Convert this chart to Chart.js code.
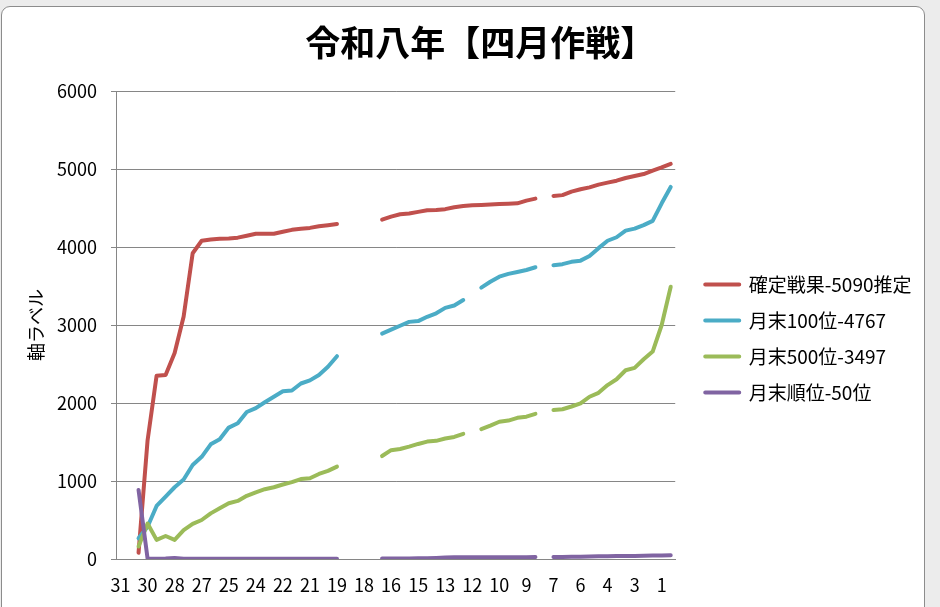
<!DOCTYPE html>
<html lang="ja">
<head>
<meta charset="utf-8">
<title>令和八年【四月作戦】</title>
<script src="https://cdn.jsdelivr.net/npm/chart.js@4.4.1/dist/chart.umd.min.js"></script>
<style>
    html, body { margin: 0; padding: 0; background: #ececec; }
    body { width: 940px; height: 607px; position: relative; overflow: hidden; }
    /* 枠（Excelのグラフエリア風） */
    .marco { position: absolute; left: 1px; top: 6px; width: 922px; height: 620px; background: #fff; border: 1px solid #8c8c8c; border-radius: 9px; }
    #grafico { position: absolute; left: 0; top: 0; }
</style>
</head>
<body>
<div class="marco"></div>
<canvas id="grafico" width="940" height="607"></canvas>
<script>
    // 日付ラベル（1日2回集計なので同じ日が2つずつ）
    var dias = ['31','31','30','30','29','29','28','28','27','27','26','26','25','25','24','24',
        '23','23','22','22','21','21','20','20','19','19','18','18','17','17','16','16',
        '15','15','14','14','13','13','12','12','11','11','10','10','9','9','8','8',
        '7','7','6','6','5','5','4','4','3','3','2','2','1','1'];

    // Y軸の目盛り
    var ticksY = [0, 1000, 2000, 3000, 4000, 5000, 6000];

    // 凡例名
    var nombres = ['確定戦果-5090推定', '月末100位-4767', '月末500位-3497', '月末順位-50位'];

    // 確定戦果
    var rojo = [null, null, 80, 1520, 2350, 2360, 2640, 3110, 3920, 4080,
        4095, 4105, 4110, 4120, 4145, 4170, 4170, 4170, 4195, 4220,
        4235, 4245, 4265, 4280, 4295, null, null, null, null, 4350,
        4390, 4420, 4430, 4450, 4470, 4475, 4485, 4510, 4525, 4535,
        4540, 4545, 4550, 4555, 4560, 4595, 4620, null, 4655, 4665,
        4710, 4740, 4765, 4800, 4825, 4850, 4885, 4910, 4935, 4980,
        5020, 5065];

    // 月末100位
    var azul = [null, null, 265, 414, 680, 800, 920, 1020, 1205, 1310,
        1470, 1535, 1685, 1740, 1885, 1935, 2010, 2080, 2150, 2160,
        2250, 2290, 2360, 2465, 2600, null, null, null, null, 2890,
        2940, 2990, 3040, 3050, 3105, 3150, 3220, 3250, 3320, null,
        3480, 3555, 3620, 3655, 3680, 3705, 3740, null, 3765, 3780,
        3810, 3825, 3885, 3985, 4080, 4125, 4210, 4235, 4280, 4335,
        4560, 4770];

    // 月末500位
    var verde = [null, null, 160, 455, 245, 295, 245, 370, 450, 500,
        585, 650, 715, 745, 810, 855, 895, 920, 955, 985,
        1025, 1035, 1090, 1130, 1185, null, null, null, null, 1320,
        1395, 1410, 1440, 1475, 1505, 1515, 1545, 1565, 1605, null,
        1665, 1710, 1760, 1775, 1810, 1825, 1860, null, 1910, 1920,
        1955, 1995, 2080, 2130, 2230, 2305, 2420, 2450, 2560, 2660,
        3000, 3490];

    // 月末順位
    var morado = [null, null, 885, 5, 3, 5, 12, 4, 2, 2,
        2, 2, 2, 2, 2, 2, 2, 2, 2, 2,
        2, 2, 2, 2, 2, null, null, null, null, 5,
        6, 7, 8, 9, 10, 14, 18, 21, 22, 23,
        23, 24, 24, 24, 24, 24, 25, null, 26, 27,
        28, 30, 32, 34, 35, 37, 38, 40, 42, 44,
        46, 48];

    var colores = ['#C0504D', '#4BACC6', '#9BBB59', '#8064A2'];
    var fuente = "'Noto Sans CJK JP', 'Noto Sans', sans-serif";

    // 系列を作る（後の系列ほど上に描く）
    function serie(i, valores) {
        return {
            label: nombres[i],
            data: valores,
            borderColor: colores[i],
            backgroundColor: colores[i],
            borderWidth: 4,
            pointRadius: 0,
            borderJoinStyle: 'round',
            borderCapStyle: 'round',
            tension: 0,
            spanGaps: false,
            order: 4 - i
        };
    }

    // 凡例とタイトルの位置を微調整
    var ajustes = {
        id: 'ajustes',
        afterLayout: function (chart) {
            var lg = chart.legend;
            if (lg) {
                lg.left += 13; lg.right += 40;
                lg.top += 35; lg.bottom += 35;
            }
            var t = chart.titleBlock;
            if (t) {
                t.left += 16; t.right += 16;
            }
        }
    };

    var ctx = document.getElementById('grafico').getContext('2d');
    var grafico = new Chart(ctx, {
        type: 'line',
        data: {
            labels: dias,
            datasets: [serie(0, rojo), serie(1, azul), serie(2, verde), serie(3, morado)]
        },
        options: {
            responsive: false,
            animation: false,
            layout: { padding: { left: 20, right: 31.5, top: 0, bottom: 0 } },
            plugins: {
                title: {
                    display: true,
                    text: '令和八年【四月作戦】',
                    color: '#000',
                    font: { family: fuente, size: 35, weight: 'bold' },
                    padding: { top: 22, bottom: 27 }
                },
                legend: {
                    position: 'right',
                    maxWidth: 320,
                    labels: {
                        boxWidth: 34,
                        boxHeight: 0,
                        padding: 17,
                        color: '#000',
                        font: { family: fuente, size: 19 },
                        sort: function (a, b) { return a.datasetIndex - b.datasetIndex; }
                    }
                },
                tooltip: { enabled: false }
            },
            scales: {
                x: {
                    offset: true,
                    grid: { display: false, drawTicks: false },
                    border: { color: '#868686', width: 1 },
                    ticks: {
                        autoSkip: false,
                        maxRotation: 0,
                        color: '#000',
                        padding: 15,
                        font: { family: fuente, size: 18 },
                        callback: function (val, i) { return i % 3 === 0 ? dias[i] : ''; }
                    },
                    afterFit: function (scale) { scale.height = 48; }
                },
                y: {
                    min: 0,
                    max: 6000,
                    afterBuildTicks: function (scale) {
                        scale.ticks = ticksY.map(function (v) { return { value: v }; });
                    },
                    grid: { color: '#868686', tickLength: 5 },
                    border: { color: '#868686', width: 1 },
                    ticks: {
                        color: '#000',
                        padding: 14,
                        font: { family: fuente, size: 18 },
                        callback: function (v) { return String(v); }
                    },
                    title: {
                        display: true,
                        text: '軸ラベル',
                        color: '#000',
                        font: { family: fuente, size: 18 },
                        padding: { top: 5, bottom: 0 }
                    },
                    afterFit: function (scale) { scale.width = 96; }
                }
            }
        },
        plugins: [ajustes]
    });
</script>
</body>
</html>
